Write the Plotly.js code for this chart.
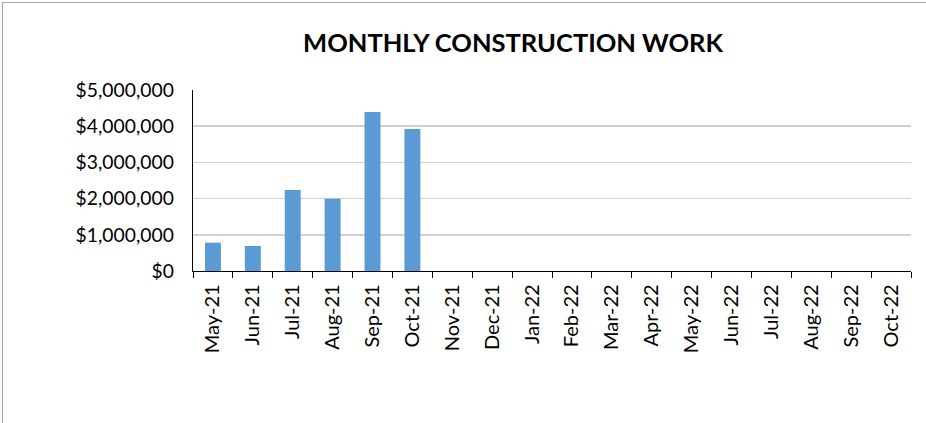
<!DOCTYPE html>
<html>
<head>
<meta charset="utf-8">
<script src="https://cdn.plot.ly/plotly-3.0.1.min.js"></script>
<style>
  html, body { margin: 0; padding: 0; background: #fff; }
  #wrap { position: relative; width: 926px; height: 423px; overflow: hidden; }
  #chart { width: 926px; height: 423px; }
  #frame { position: absolute; left: 2px; top: 2px; width: 1000px; height: 500px;
           border-left: 1px solid #a6a6a6; border-top: 1px solid #a6a6a6; pointer-events: none; }
</style>
</head>
<body>
<div id="wrap">
  <div id="chart"></div>
  <div id="frame"></div>
</div>
<script>
const months = ["May-21","Jun-21","Jul-21","Aug-21","Sep-21","Oct-21","Nov-21","Dec-21",
                "Jan-22","Feb-22","Mar-22","Apr-22","May-22","Jun-22","Jul-22","Aug-22","Sep-22","Oct-22"];
const workValues = [782000, 690000, 2240000, 1995000, 4390000, 3925000, 0, 0,
                    0, 0, 0, 0, 0, 0, 0, 0, 0, 0];
const yTickValues = [0, 1000000, 2000000, 3000000, 4000000, 5000000];
const yTickLabels = ["$0", "$1,000,000", "$2,000,000", "$3,000,000", "$4,000,000", "$5,000,000"];

const trace = {
  type: "bar",
  x: months,
  y: workValues,
  marker: { color: "#5B9BD5" },
  hoverinfo: "x+y"
};

const layout = {
  width: 926,
  height: 423,
  margin: { l: 193, r: 15, t: 90, b: 152 },
  paper_bgcolor: "rgba(0,0,0,0)",
  plot_bgcolor: "#ffffff",
  bargap: 0.6,
  showlegend: false,
  title: {
    text: "<b>MONTHLY CONSTRUCTION WORK</b>",
    font: { family: "Lato, 'Open Sans', sans-serif", size: 25.5, color: "#000000" },
    xref: "container", x: 513 / 926, xanchor: "center",
    yref: "container", y: 1 - 43 / 423, yanchor: "middle"
  },
  xaxis: {
    type: "category",
    tickangle: -90,
    ticks: "outside",
    tickson: "boundaries",
    ticklen: 6,
    tickcolor: "#000000",
    tickwidth: 1,
    showline: true,
    linecolor: "#000000",
    linewidth: 1.3,
    showgrid: false,
    ticklabelstandoff: 4,
    tickfont: { family: "Lato, 'Open Sans', sans-serif", size: 20, color: "#000000" }
  },
  yaxis: {
    range: [0, 5000000],
    tickvals: yTickValues,
    ticktext: yTickLabels,
    showline: true,
    linecolor: "#000000",
    linewidth: 1.3,
    showgrid: true,
    gridcolor: "#d0d0d0",
    gridwidth: 1.5,
    zeroline: false,
    ticks: "",
    ticklabelstandoff: 14,
    tickfont: { family: "Lato, 'Open Sans', sans-serif", size: 19.3, color: "#000000" }
  }
};

Plotly.newPlot("chart", [trace], layout, { displayModeBar: false, staticPlot: true });
</script>
</body>
</html>
